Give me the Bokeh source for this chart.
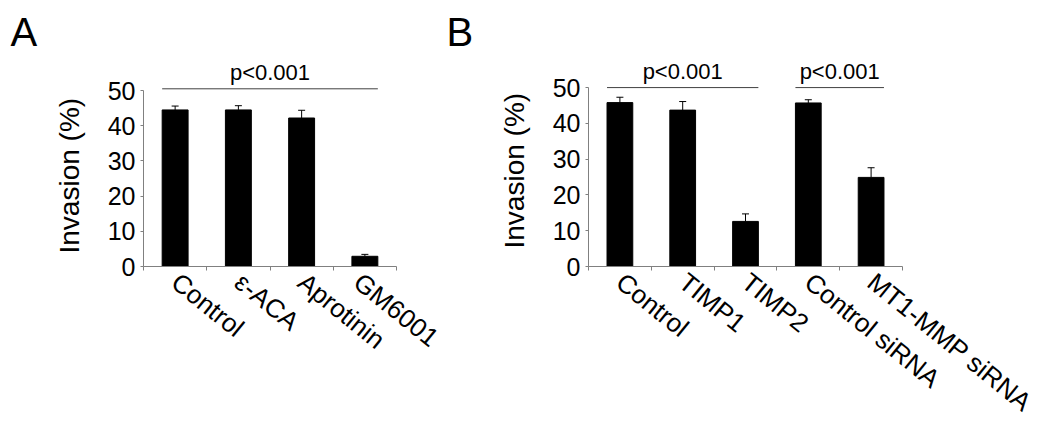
from bokeh.plotting import figure
from bokeh.models import (Range1d, LinearAxis, FixedTicker, Title,
                          ColumnDataSource, Whisker, TeeHead)
from bokeh.layouts import row
from bokeh.embed import file_html
from bokeh.resources import INLINE
from bokeh.core.properties import value

FONT = "Liberation Sans"
AXIS_COLOR = "#808080"
SIG_COLOR = "#404040"

# ---------------- data ----------------
a_categories = ["Control", "ε-ACA", "Aprotinin", "GM6001"]
a_values = [44.5, 44.5, 42.2, 2.9]
a_errors = [1.1, 1.2, 2.2, 0.55]
a_brackets = [("Control", "GM6001", 50.5, "p<0.001")]

b_categories = ["Control", "TIMP1", "TIMP2", "Control siRNA", "MT1-MMP siRNA"]
b_values = [45.8, 43.7, 12.6, 45.7, 24.9]
b_errors = [1.5, 2.4, 2.1, 0.9, 2.7]
b_brackets = [("Control", "TIMP2", 50.0, "p<0.001"),
              ("Control siRNA", "MT1-MMP siRNA", 50.0, "p<0.001")]

y_ticks = [0, 10, 20, 30, 40, 50]
y_label = "Invasion (%)"

BAR_W = 0.41
H = 440


def make_panel(cats, vals, errs, brackets, letter, width, bl, fw, bt, fh, ymax,
               letter_offset, ylab_offset):
    n = len(cats)
    centers = [i + 0.5 for i in range(n)]
    p = figure(x_range=Range1d(0, n), y_range=Range1d(0, ymax),
               width=width, height=H, output_backend="svg", toolbar_location=None,
               x_axis_location=None, y_axis_location=None,
               min_border_left=bl, min_border_right=width - bl - fw,
               min_border_top=bt, min_border_bottom=H - bt - fh)
    p.outline_line_color = None
    p.xgrid.visible = False
    p.ygrid.visible = False
    p.background_fill_color = "white"
    p.border_fill_color = "white"

    p.title.text = letter
    p.title.align = "left"
    p.title.offset = letter_offset
    p.title.text_font = FONT
    p.title.text_font_size = "40px"
    p.title.text_font_style = "normal"
    p.title.text_color = "black"
    p.title.standoff = 14

    yax = LinearAxis(ticker=FixedTicker(ticks=y_ticks), bounds=(0, 50),
                     major_label_text_font=FONT, major_label_text_font_size="25px",
                     major_label_text_color="black", major_label_standoff=5,
                     major_tick_out=3, major_tick_in=0, minor_tick_line_color=None,
                     axis_line_color=AXIS_COLOR, major_tick_line_color=AXIS_COLOR)
    p.add_layout(yax, "left")
    p.add_layout(Title(text=y_label, align="left", offset=ylab_offset,
                       text_font=FONT, text_font_size="28px", text_font_style="normal",
                       text_color="black", standoff=39), "left")

    edges = list(range(n + 1))
    tick_ax = LinearAxis(ticker=FixedTicker(ticks=edges),
                         major_label_overrides={e: "" for e in edges},
                         major_label_text_font_size="0px", major_label_standoff=0,
                         major_tick_out=4, major_tick_in=0, minor_tick_line_color=None,
                         axis_line_color=AXIS_COLOR, major_tick_line_color=AXIS_COLOR)
    p.add_layout(tick_ax, "below")

    lab_ax = LinearAxis(ticker=FixedTicker(ticks=centers),
                        major_label_overrides={c: name for c, name in zip(centers, cats)},
                        axis_line_color=None, major_tick_line_color=None,
                        minor_tick_line_color=None,
                        major_tick_out=0, major_tick_in=0,
                        major_label_orientation=-0.68,
                        major_label_text_font=FONT, major_label_text_font_size="26px",
                        major_label_text_color="black", major_label_standoff=8)
    p.add_layout(lab_ax, "below")

    src = ColumnDataSource(dict(x=centers, val=vals, upper=[v + e for v, e in zip(vals, errs)]))
    p.vbar(x="x", top="val", width=BAR_W, source=src, fill_color="black", line_color="black")
    p.add_layout(Whisker(base="x", lower="val", upper="upper", source=src, dimension="height",
                         line_color="black", line_width=1,
                         upper_head=TeeHead(size=7, line_color="black", line_width=1),
                         lower_head=None))

    for c0, c1, yv, txt in brackets:
        i0, i1 = cats.index(c0), cats.index(c1)
        x0 = centers[i0] - BAR_W / 2
        x1 = centers[i1] + BAR_W / 2
        p.segment(x0=[x0], y0=[yv], x1=[x1], y1=[yv],
                  line_color=SIG_COLOR, line_width=1)
        p.text(x=[(x0 + x1) / 2], y=[yv], text=[txt],
               text_align="center", text_baseline="alphabetic", y_offset=-16,
               text_font=value(FONT), text_font_size="22px", text_color="black")
    return p


pA = make_panel(a_categories, a_values, a_errors, a_brackets, "A",
                width=444, bl=143, fw=253, bt=55, fh=211, ymax=211 / 3.604,
                letter_offset=-133, ylab_offset=13)
pB = make_panel(b_categories, b_values, b_errors, b_brackets, "B",
                width=606, bl=144, fw=314, bt=55, fh=213, ymax=213 / 3.7,
                letter_offset=-142, ylab_offset=18)

layout = row(pA, pB)
open("out.html", "w").write(file_html(layout, INLINE))
